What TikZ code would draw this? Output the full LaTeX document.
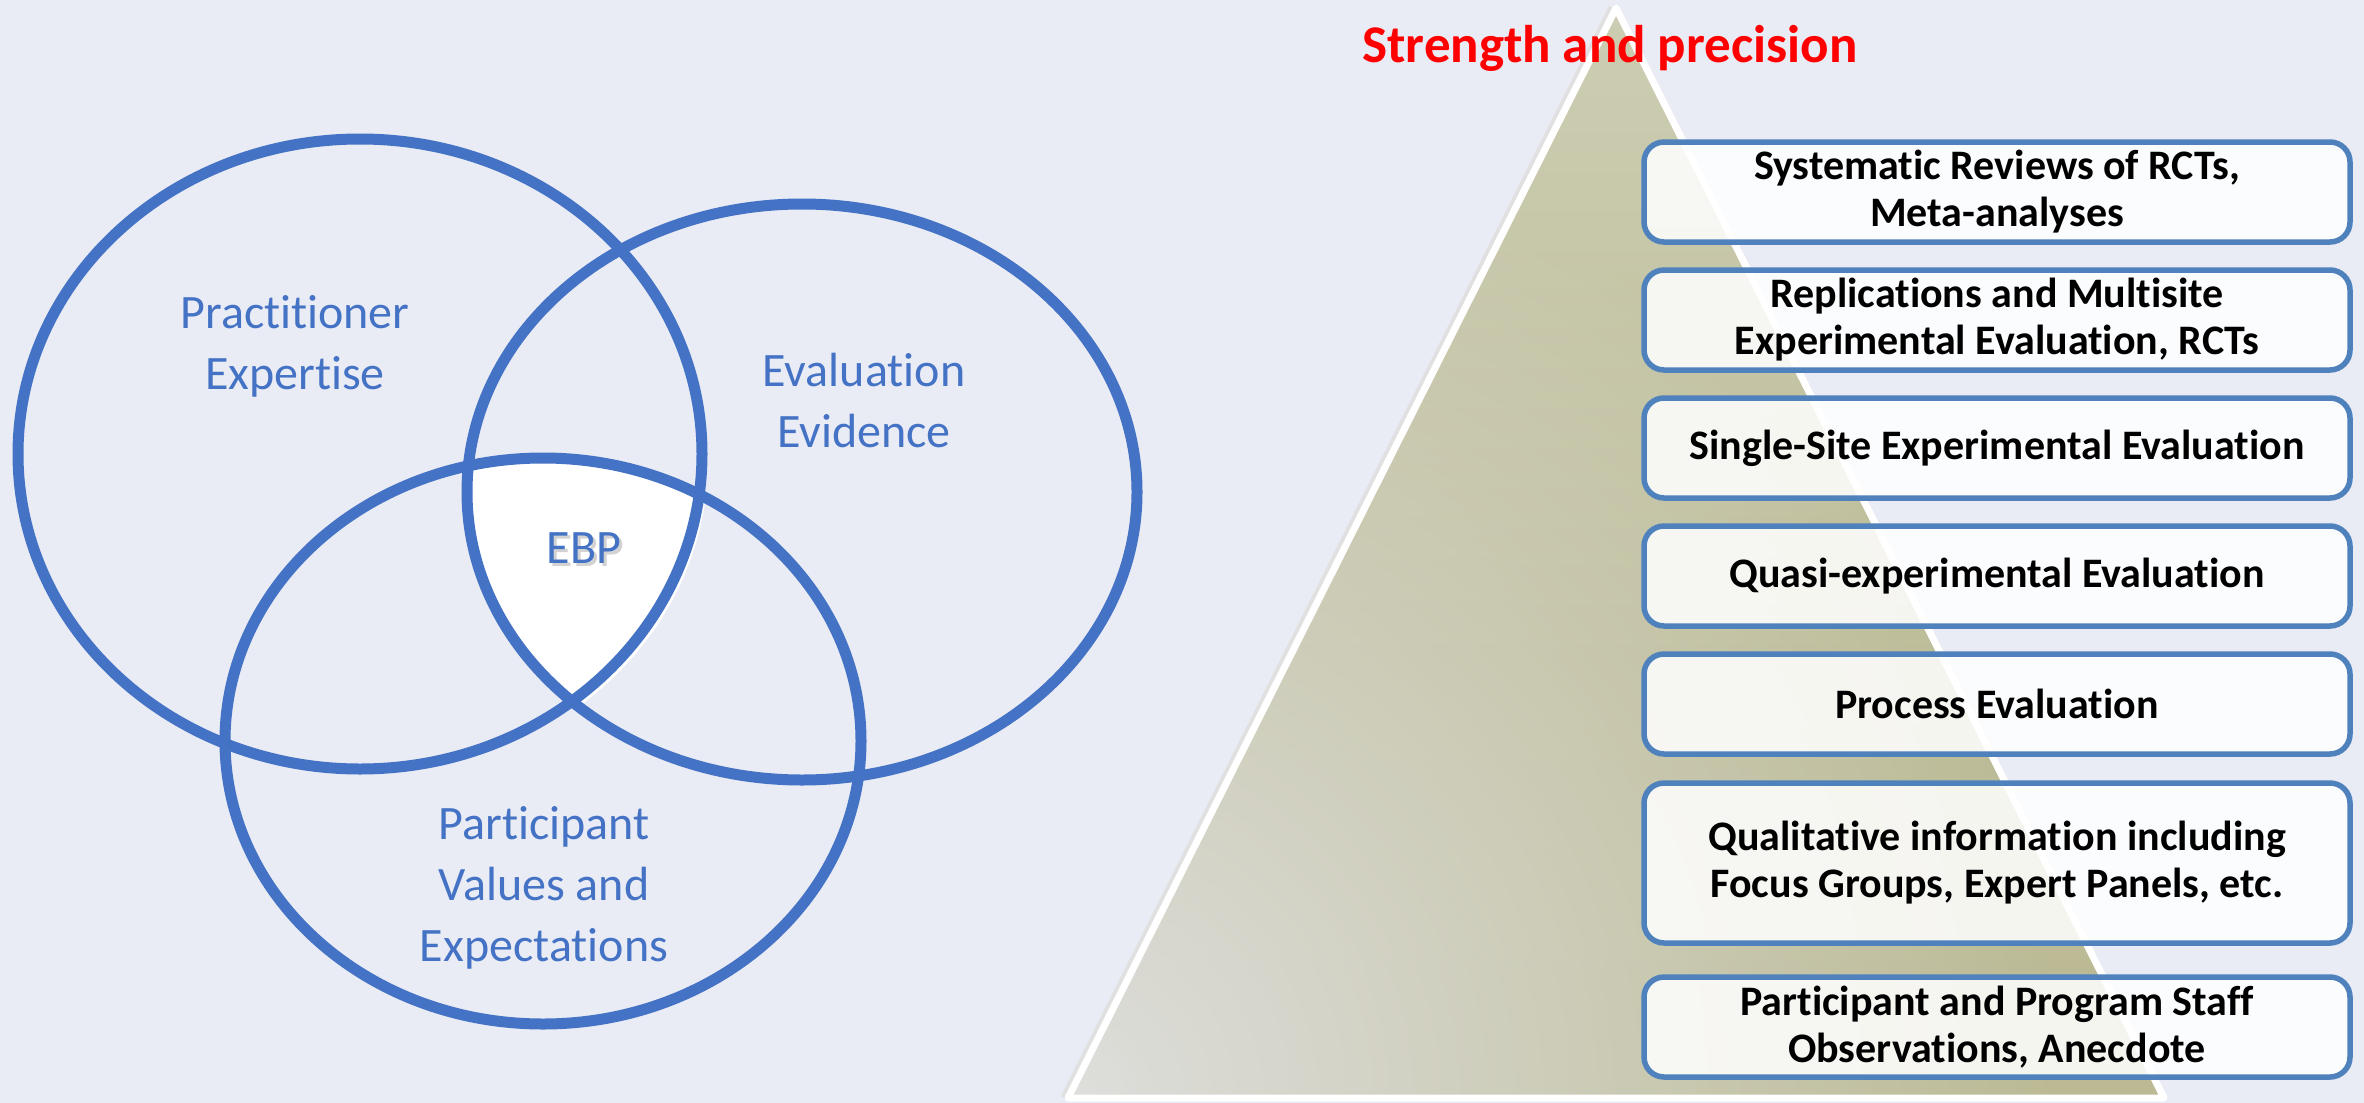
\documentclass[tikz,border=0pt]{standalone}
\usepackage{fontspec}
\setmainfont[Ligatures=NoCommon]{Carlito}
\usetikzlibrary{fadings}
\definecolor{bg}{HTML}{E9EBF5}
\definecolor{vennblue}{HTML}{4472C4}
\definecolor{boxblue}{HTML}{4F81BD}
\definecolor{pyrtop}{HTML}{DADAC7}
\definecolor{pyrupper}{HTML}{CBCBB0}
\definecolor{pyrmid}{HTML}{BDBC97}
\definecolor{pyrbot}{HTML}{B8B78F}
\definecolor{pyrlight}{HTML}{DEDEDC}
\definecolor{titlered}{HTML}{FF0000}
\pgfdeclareverticalshading{pyrshade}{100bp}{color(0bp)=(pyrbot); color(45bp)=(pyrmid); color(72bp)=(pyrupper); color(100bp)=(pyrtop)}
\tikzfading[name=cornerfade, inner color=transparent!0, outer color=transparent!100]
\begin{document}
\begin{tikzpicture}[x=1pt,y=-1pt,
  venn/.style={draw=vennblue, line width=11pt},
  venntext/.style={text=vennblue, font=\fontsize{48}{61}\selectfont, align=center, anchor=base},
  levelbox/.style={draw=boxblue, line width=5.5pt, rounded corners=20pt, fill=white, fill opacity=0.86, text opacity=1,
    minimum width=706pt, minimum height=100pt, align=center, font=\bfseries\fontsize{42}{47}\selectfont, inner sep=0pt},
  pyredge/.style={draw=white, line width=7pt, line join=round}]
\useasboundingbox (0,0) rectangle (2364,1103);
\fill[bg] (0,0) rectangle (2364,1103);

% ---------- pyramid ----------
\coordinate (apex) at (1616,8);
\coordinate (bl) at (1068,1098);
\coordinate (br) at (2164,1098);
\draw[black!12, line width=9pt, line join=round] ([xshift=-3pt]apex) -- ([xshift=-3pt]bl);
\begin{scope}
  \clip (apex) -- (bl) -- (br) -- cycle;
  \shade[shading=pyrshade] (1060,8) rectangle (2170,1100);
  \fill[pyrlight, path fading=cornerfade] (bl) circle [radius=1000pt];
\end{scope}
\draw[pyredge] (apex) -- (bl) -- (br) -- cycle;

\node[text=titlered, font=\bfseries\fontsize{53}{60}\selectfont, anchor=base] (title) at (1610,62) {Strength and precision};

% ---------- boxes ----------
\node[levelbox] (b1) at (1997,192) {Systematic Reviews of RCTs,\\Meta-analyses};
\node[levelbox] (b2) at (1997,320) {Replications and Multisite\\Experimental Evaluation, RCTs};
\node[levelbox] (b3) at (1997,448) {Single-Site Experimental Evaluation};
\node[levelbox] (b4) at (1997,576) {Quasi-experimental Evaluation};
\node[levelbox] (b5) at (1997,704) {Process Evaluation};
\node[levelbox, minimum height=160pt] (b6) at (1997,863) {Qualitative information including\\Focus Groups, Expert Panels, etc.};
\node[levelbox] (b7) at (1997,1027) {Participant and Program Staff\\Observations, Anecdote};

% ---------- Venn ----------
\begin{scope}[shift={(6,6)}]
  \clip (360,454) ellipse [x radius=342pt, y radius=315pt];
  \clip (802,492) ellipse [x radius=335pt, y radius=288pt];
  \fill[white] (543,741) ellipse [x radius=318pt, y radius=283pt];
\end{scope}
\begin{scope}
  \clip (360,454) ellipse [x radius=342pt, y radius=315pt];
  \clip (802,492) ellipse [x radius=335pt, y radius=288pt];
  \fill[white] (543,741) ellipse [x radius=318pt, y radius=283pt];
\end{scope}
\draw[venn] (360,454) ellipse [x radius=342pt, y radius=315pt];
\draw[venn] (802,492) ellipse [x radius=335pt, y radius=288pt];
\draw[venn] (543,741) ellipse [x radius=318pt, y radius=283pt];

\node[venntext] (pe) at (295,389) {Practitioner\\Expertise};
\node[venntext] (ee) at (864,447) {Evaluation\\Evidence};
\node[venntext] (pv) at (544,961) {Participant\\Values and\\Expectations};
\node[venntext, text=black!35, opacity=0.5] (ebpshadow) at (587,566) {EBP};
\node[venntext] (ebp) at (584,563) {EBP};
\end{tikzpicture}
\end{document}
